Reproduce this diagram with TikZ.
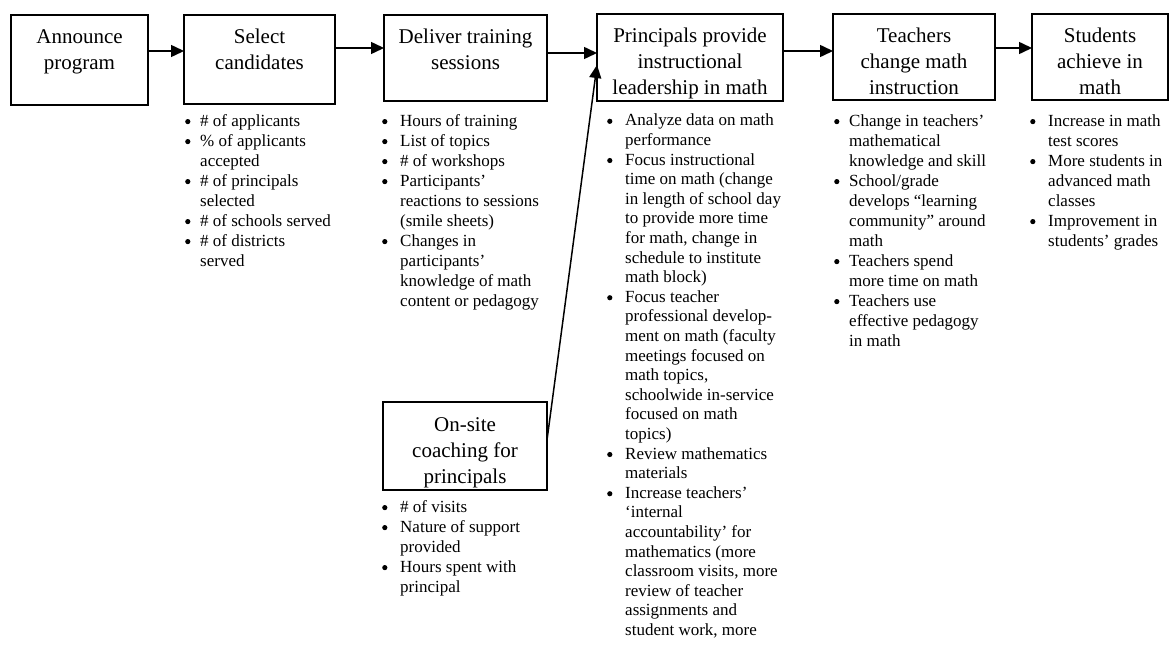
\documentclass[tikz,border=0pt]{standalone}
\usepackage{fontspec}
\setmainfont{Liberation Serif}
\usetikzlibrary{arrows.meta}
\newcommand{\bt}{\tikz[baseline=-4.6pt]\fill (2.6pt,0pt) circle (2.6pt);}
\newcommand{\boxtext}[3]{\parbox[c][#1pt][t]{#2pt}{\centering\rule{0pt}{29pt}#3}}
\begin{document}
\begin{tikzpicture}[x=1pt,y=-1pt,
 box/.style={draw, line width=1.7pt, inner sep=0pt, outer sep=0pt, font=\fontsize{21}{26}\selectfont},
 arr/.style={line width=1.5pt, -{Triangle[length=13pt,width=12pt]}},
 lst/.style={anchor=north west, inner sep=0pt, font=\fontsize{17}{20}\selectfont, align=left},
 lstc/.style={lst, font=\fontsize{17}{19.6}\selectfont}]
\useasboundingbox[fill=white] (0,0) rectangle (1169,650);

% top row boxes
\node[box] (b1) at (79.5,60) {\boxtext{90}{137}{Announce\\program}};
\node[box] (b2) at (259.5,59.5) {\boxtext{89}{151}{Select\\candidates}};
\node[box] (b3) at (465.5,58) {\boxtext{86}{163}{Deliver training\\sessions}};
\node[box] (b4) at (690,57.5) {\boxtext{87}{186}{Principals provide\\instructional\\leadership in math}};
\node[box] (b5) at (914,57) {\boxtext{86}{162}{Teachers\\change math\\instruction}};
\node[box] (b6) at (1100,57) {\boxtext{86}{136}{Students\\achieve in\\math}};
\node[box] (on) at (465,446) {\boxtext{88}{164}{On-site\\coaching for\\principals}};

% arrows
\draw[arr] (b1.east |- 0,51) -- (b2.west |- 0,51);
\draw[arr] (b2.east |- 0,48) -- (b3.west |- 0,48);
\draw[arr] (b3.east |- 0,53) -- (b4.west |- 0,53);
\draw[arr] (b4.east |- 0,51) -- (b5.west |- 0,51);
\draw[arr] (b5.east |- 0,48) -- (b6.west |- 0,48);
\draw[arr] ([yshift=6pt]on.east) -- ([yshift=-7.5pt]b4.west);

% lists
\node[lst] (l2) at (185,112) {\begin{tabular}{@{}p{15pt}@{}l@{}}
\bt & \# of applicants\\
\bt & \% of applicants\\
 & accepted\\
\bt & \# of principals\\
 & selected\\
\bt & \# of schools served\\
\bt & \# of districts\\
 & served
\end{tabular}};

\node[lst] (l3) at (382,112) {\begin{tabular}{@{}p{18pt}@{}l@{}}
\bt & Hours of training\\
\bt & List of topics\\
\bt & \# of workshops\\
\bt & Participants’\\
 & reactions to sessions\\
 & (smile sheets)\\
\bt & Changes in\\
 & participants’\\
 & knowledge of math\\
 & content or pedagogy
\end{tabular}};

\node[lstc] (l4) at (607,112) {\begin{tabular}{@{}p{18pt}@{}l@{}}
\bt & Analyze data on math\\
 & performance\\
\bt & Focus instructional\\
 & time on math (change\\
 & in length of school day\\
 & to provide more time\\
 & for math, change in\\
 & schedule to institute\\
 & math block)\\
\bt & Focus teacher\\
 & professional develop-\\
 & ment on math (faculty\\
 & meetings focused on\\
 & math topics,\\
 & schoolwide in-service\\
 & focused on math\\
 & topics)\\
\bt & Review mathematics\\
 & materials\\
\bt & Increase teachers’\\
 & ‘internal\\
 & accountability’ for\\
 & mathematics (more\\
 & classroom visits, more\\
 & review of teacher\\
 & assignments and\\
 & student work, more
\end{tabular}};

\node[lst] (l5) at (834,112) {\begin{tabular}{@{}p{15pt}@{}l@{}}
\bt & Change in teachers’\\
 & mathematical\\
 & knowledge and skill\\
\bt & School/grade\\
 & develops “learning\\
 & community” around\\
 & math\\
\bt & Teachers spend\\
 & more time on math\\
\bt & Teachers use\\
 & effective pedagogy\\
 & in math
\end{tabular}};

\node[lst] (l6) at (1030,112) {\begin{tabular}{@{}p{18pt}@{}l@{}}
\bt & Increase in math\\
 & test scores\\
\bt & More students in\\
 & advanced math\\
 & classes\\
\bt & Improvement in\\
 & students’ grades
\end{tabular}};

\node[lst] (l7) at (382,498) {\begin{tabular}{@{}p{18pt}@{}l@{}}
\bt & \# of visits\\
\bt & Nature of support\\
 & provided\\
\bt & Hours spent with\\
 & principal
\end{tabular}};
\end{tikzpicture}
\end{document}
